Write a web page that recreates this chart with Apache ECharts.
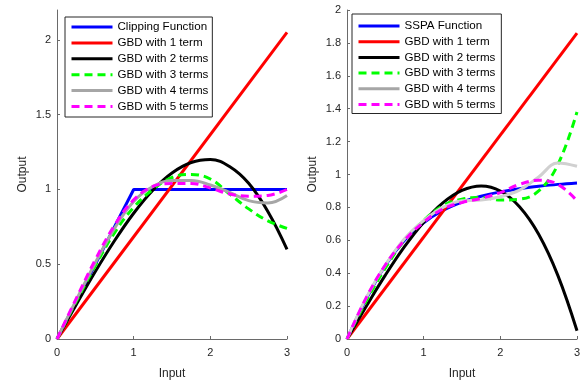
<!DOCTYPE html>
<html>
<head>
<meta charset="utf-8">
<script src="https://cdn.jsdelivr.net/npm/echarts@6/dist/echarts.min.js"></script>
<style>
  html, body { margin: 0; padding: 0; background: #fff; }
  #chart { width: 587px; height: 385px; }
</style>
</head>
<body>
<div id="chart"></div>
<script>
// Input samples shared by the fitted curves
const inputs = [0, 0.25, 0.5, 0.75, 1, 1.25, 1.5, 1.75, 2, 2.25, 2.5, 2.75, 3];

// Left panel: clipping amplifier and its GBD approximations
const clipX = [0, 1, 3];
const clipY = [0, 1, 1];
const leftLinX = [0, 3];
const leftLinY = [0, 2.05];
const leftGbd2 = [0, 0.229, 0.451, 0.657, 0.841, 0.995, 1.110, 1.180, 1.200, 1.153, 1.041, 0.853, 0.60];
const leftGbd3 = [0, 0.25, 0.49, 0.71, 0.88, 1.00, 1.08, 1.10, 1.07, 0.97, 0.87, 0.79, 0.74];
const leftGbd4 = [0, 0.26, 0.51, 0.74, 0.92, 1.02, 1.06, 1.06, 1.03, 0.98, 0.925, 0.91, 0.96];
const leftGbd5 = [0, 0.27, 0.53, 0.76, 0.93, 1.02, 1.04, 1.04, 1.01, 0.97, 0.955, 0.96, 1.0];

// Right panel: SSPA amplifier and its GBD approximations
const sspaY = [0, 0.2425, 0.447, 0.600, 0.707, 0.781, 0.832, 0.868, 0.894, 0.914, 0.928, 0.940, 0.949];
const rightLinX = [0, 3];
const rightLinY = [0, 1.86];
const rightGbd2 = [0, 0.198, 0.388, 0.561, 0.710, 0.827, 0.903, 0.930, 0.900, 0.804, 0.637, 0.387, 0.05];
const rightGbd3 = [0, 0.23, 0.43, 0.60, 0.72, 0.81, 0.85, 0.86, 0.845, 0.85, 0.90, 1.06, 1.38];
const rightGbd4 = [0, 0.25, 0.45, 0.61, 0.72, 0.80, 0.84, 0.845, 0.865, 0.905, 0.985, 1.07, 1.05];
const rightGbd5 = [0, 0.25, 0.45, 0.60, 0.71, 0.79, 0.83, 0.855, 0.89, 0.94, 0.965, 0.94, 0.84];

const xTicks = [0, 1, 2, 3];
const leftYTicks = [0, 0.5, 1, 1.5, 2];
const rightYTicks = [0, 0.2, 0.4, 0.6, 0.8, 1, 1.2, 1.4, 1.6, 1.8, 2];

const leftNames = ['Clipping Function', 'GBD with 1 term', 'GBD with 2 terms', 'GBD with 3 terms', 'GBD with 4 terms', 'GBD with 5 terms'];
const rightNames = ['SSPA Function', 'GBD with 1 term', 'GBD with 2 terms', 'GBD with 3 terms', 'GBD with 4 terms', 'GBD with 5 terms'];

const pairs = (xs, ys) => xs.map((x, i) => [x, ys[i]]);

const FONT = 'Liberation Sans, Arial, Helvetica, sans-serif';
const AXIS_COLOR = '#6a6a6a';
const TEXT_COLOR = '#262626';

function xAxis(gridIndex) {
  return {
    type: 'value', gridIndex, min: 0, max: 3, interval: 1,
    name: 'Input', nameLocation: 'middle', nameGap: 29,
    nameTextStyle: { fontFamily: FONT, fontSize: 12, color: TEXT_COLOR },
    axisLine: { show: true, onZero: false, lineStyle: { color: AXIS_COLOR, width: 1 } },
    axisTick: { show: true, inside: true, length: 3, customValues: xTicks, lineStyle: { color: AXIS_COLOR } },
    axisLabel: { fontFamily: FONT, fontSize: 11, color: TEXT_COLOR, margin: 8, customValues: xTicks },
    splitLine: { show: false }
  };
}

function yAxis(gridIndex, max, ticks, nameGap) {
  return {
    type: 'value', gridIndex, min: 0, max,
    name: 'Output', nameLocation: 'middle', nameGap,
    nameTextStyle: { fontFamily: FONT, fontSize: 12, color: TEXT_COLOR },
    axisLine: { show: true, onZero: false, lineStyle: { color: AXIS_COLOR, width: 1 } },
    axisTick: { show: true, inside: true, length: 3, customValues: ticks, lineStyle: { color: AXIS_COLOR } },
    axisLabel: { fontFamily: FONT, fontSize: 11, color: TEXT_COLOR, margin: 6, customValues: ticks },
    splitLine: { show: false }
  };
}

function line(name, data, color, idx, dashed, smooth) {
  return {
    type: 'line', name, data,
    xAxisIndex: idx, yAxisIndex: idx,
    showSymbol: false, symbol: 'none',
    smooth: smooth ? 0.4 : false,
    lineStyle: { color, width: 3, type: dashed ? [8, 5] : 'solid', cap: 'butt' },
    itemStyle: { color },
    emphasis: { disabled: true }
  };
}

function legend(names, left, top, padding, gap) {
  return {
    data: names, orient: 'vertical', left, top,
    itemWidth: 41, itemHeight: 14, itemGap: gap,
    padding, borderColor: '#262626', borderWidth: 1, backgroundColor: '#fff',
    itemStyle: { opacity: 0 },
    lineStyle: { width: 3 },
    textStyle: { fontFamily: FONT, fontSize: 11.6, color: '#000' },
    selectedMode: false
  };
}

const chart = echarts.init(document.getElementById('chart'), null, { renderer: 'canvas' });

chart.setOption({
  animation: false,
  backgroundColor: '#fff',
  grid: [
    { left: 57, right: 300, top: 10, bottom: 44, containLabel: false },
    { left: 347, right: 10, top: 10, bottom: 44, containLabel: false }
  ],
  xAxis: [xAxis(0), xAxis(1)],
  yAxis: [yAxis(0, 2.2, leftYTicks, 28), yAxis(1, 2, rightYTicks, 28)],
  legend: [
    legend(leftNames, 65, 17, [4, 4, 4.5, 5], 3.9),
    legend(rightNames, 352, 14, [6, 6, 3, 5], 3.7)
  ],
  series: [
    line(leftNames[0], pairs(clipX, clipY), '#0000ff', 0, false, false),
    line(leftNames[1], pairs(leftLinX, leftLinY), '#ff0000', 0, false, false),
    line(leftNames[2], pairs(inputs, leftGbd2), '#000000', 0, false, true),
    line(leftNames[3], pairs(inputs, leftGbd3), '#00ff00', 0, true, true),
    line(leftNames[4], pairs(inputs, leftGbd4), '#a6a6a6', 0, false, true),
    line(leftNames[5], pairs(inputs, leftGbd5), '#ff00ff', 0, true, true),

    line(rightNames[0], pairs(inputs, sspaY), '#0000ff', 1, false, true),
    line(rightNames[1], pairs(rightLinX, rightLinY), '#ff0000', 1, false, false),
    line(rightNames[2], pairs(inputs, rightGbd2), '#000000', 1, false, true),
    line(rightNames[3], pairs(inputs, rightGbd3), '#00ff00', 1, true, true),
    line(rightNames[4], pairs(inputs, rightGbd4), '#d0d0d0', 1, false, true),
    line(rightNames[5], pairs(inputs, rightGbd5), '#ff00ff', 1, true, true)
  ]
});
</script>
</body>
</html>
